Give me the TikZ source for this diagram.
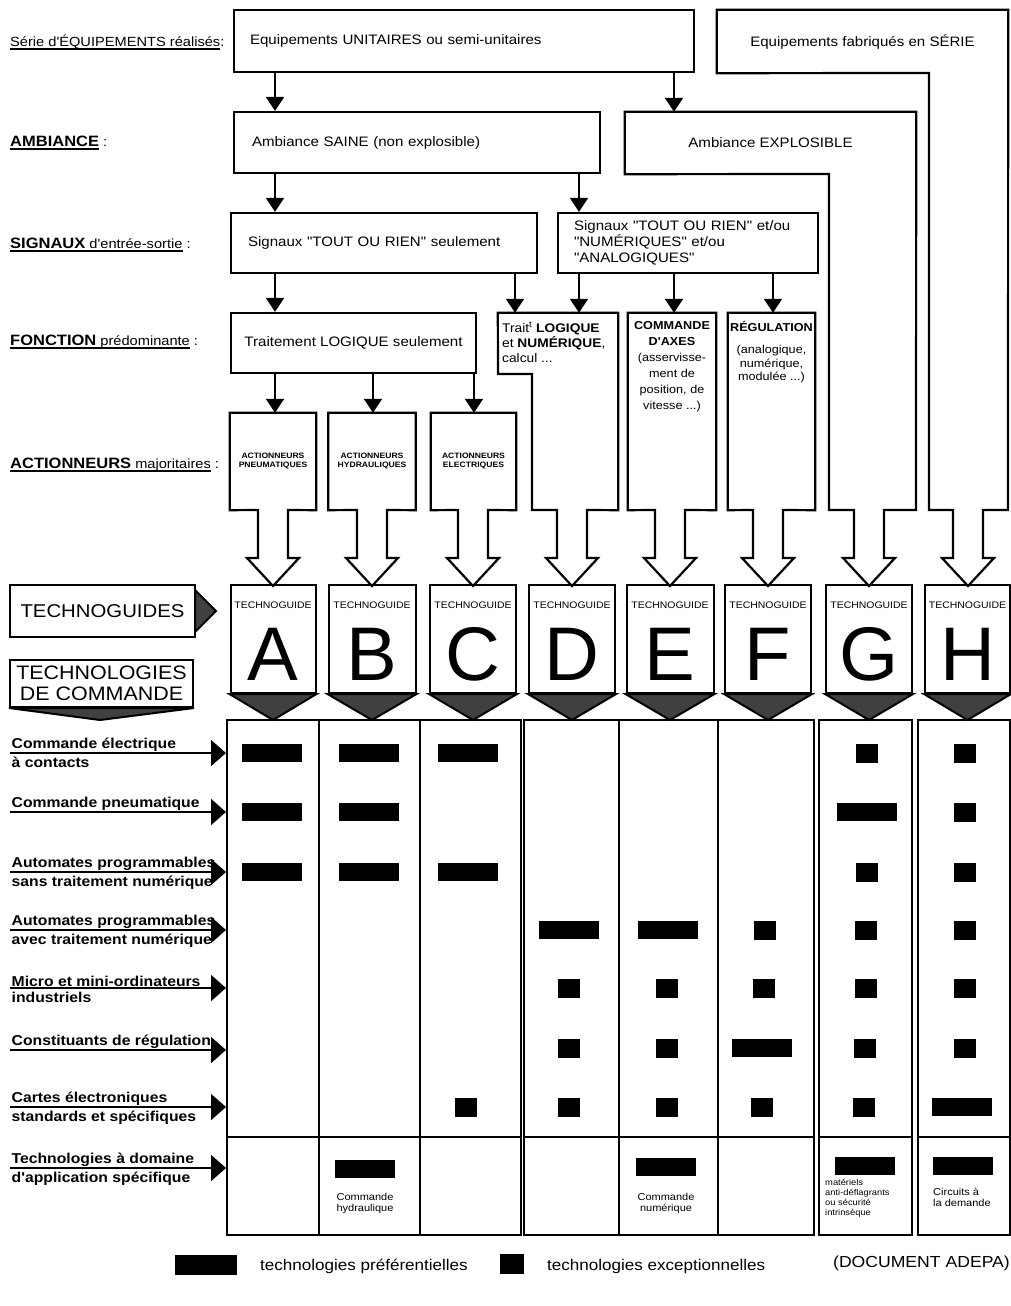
\documentclass[tikz,border=0pt]{standalone}
\usepackage{fontspec}
\setmainfont{Liberation Sans}[FakeStretch=1.1, Ligatures=TeXOff]
\newfontfamily\letterfont{Liberation Sans}
\usetikzlibrary{arrows.meta}
\newsavebox{\ulbox}
\newcommand{\undl}[1]{\sbox\ulbox{#1}\rlap{\raisebox{-3.5pt}{\rule{\wd\ulbox}{1.5pt}}}\usebox\ulbox}
\newcommand{\kw}[1]{{\fontsize{15}{17}\selectfont\bfseries #1}}

\tikzset{
  box/.style={draw, line width=2.2pt, inner ysep=0pt},
  boxtext/.style={font=\fontsize{13.7}{16}\selectfont},
  lab/.style={anchor=west, inner sep=0pt, font=\fontsize{13.3}{15}\selectfont},
  rowlab/.style={inner sep=1.5pt, font=\bfseries\fontsize{14.3}{16}\selectfont},
  colbox/.style={inner sep=0pt},
  outline/.style={line width=2.2pt, line join=miter},
  flow/.style={-{Triangle[width=18pt,length=14pt]}, line width=1.8pt},
  rowarrow/.style={-{Triangle[width=26pt,length=15pt]}, line width=1.8pt},
  tiparrow/.style={insert path={-- ([xshift=#1]15,510) -- ([xshift=#1]15,558) -- ([xshift=#1]26,558) -- ([xshift=#1]0,586) -- ([xshift=#1]-26,558) -- ([xshift=#1]-15,558) -- ([xshift=#1]-15,510)}},
  guide/.style={draw, line width=2pt, inner sep=0pt, minimum height=108pt},
  gtitle/.style={inner sep=0pt, font=\fontsize{9.5}{10}\selectfont},
  gletter/.style={anchor=base, inner sep=0pt, font=\letterfont\fontsize{76}{80}\selectfont},
  darkfill/.style={fill=black!75, draw=black, line width=2pt},
  matframe/.style={draw, line width=2pt, inner sep=0pt, minimum height=515pt},
  pref/.style={fill=black, minimum width=60pt, minimum height=18pt, inner sep=0pt},
  excep/.style={fill=black, minimum width=22pt, minimum height=19pt, inner sep=0pt},
  note/.style={inner sep=0pt, align=center, font=\fontsize{10}{11}\selectfont},
}

\begin{document}
\begin{tikzpicture}[x=1pt, y=-1pt]
\useasboundingbox (0,0) rectangle (1011,1306);

\coordinate (kA) at (275,0);
\coordinate (kB) at (373,0);
\coordinate (kC) at (474,0);
\coordinate (kD1) at (515,0);
\coordinate (kD2) at (579,0);
\coordinate (kE) at (674,0);
\coordinate (kF) at (773,0);

\node[lab] (lserie) at (10,42) {\undl{Série d'ÉQUIPEMENTS réalisés}:};
\node[lab] (lamb) at (10,143) {\undl{\kw{AMBIANCE}} :};
\node[lab] (lsig) at (10,245) {\undl{\kw{SIGNAUX} d'entrée-sortie} :};
\node[lab] (lfon) at (10,342) {\undl{\kw{FONCTION} prédominante} :};
\node[lab] (lact) at (10,465) {\undl{\kw{ACTIONNEURS} majoritaires} :};

\node[box, boxtext, minimum width=460pt, minimum height=62pt, text width=428pt, inner xsep=16pt, align=left] (unit) at (464,41) {Equipements UNITAIRES ou semi-unitaires};
\node[colbox, boxtext, minimum width=291pt, minimum height=63pt] (serie) at (862.5,41.5) {Equipements fabriqués en SÉRIE};
\draw[outline] (serie.north west) -- (serie.north east) -- (1008,510) [tiparrow=968] -- (929,510) -- (929,73) -- (serie.south west) -- cycle;

\node[box, boxtext, minimum width=366pt, minimum height=61pt, text width=330pt, inner xsep=18pt, align=left] (saine) at (417,142.5) {Ambiance SAINE (non explosible)};
\node[colbox, boxtext, minimum width=291pt, minimum height=62pt] (explo) at (770.5,143) {Ambiance EXPLOSIBLE};
\draw[outline] (explo.north west) -- (explo.north east) -- (916,510) [tiparrow=869] -- (829,510) -- (829,174) -- (explo.south west) -- cycle;

\node[box, boxtext, minimum width=306pt, minimum height=60pt, text width=272pt, inner xsep=17pt, align=left] (tor) at (384,243) {Signaux "TOUT OU RIEN" seulement};
\node[box, boxtext, minimum width=260pt, minimum height=60pt, text width=228pt, inner xsep=16pt, align=left] (num) at (688,243) {Signaux "TOUT OU RIEN" et/ou\\"NUMÉRIQUES" et/ou\\"ANALOGIQUES"};
\node[box, boxtext, minimum width=245pt, minimum height=60pt] (logique) at (353.5,343) {Traitement LOGIQUE seulement};

\node[colbox, minimum width=120pt, minimum height=197pt] (funD) at (558,411.5) {};
\draw[outline] (funD.north west) -- (funD.north east) -- (funD.south east) [tiparrow=572] -- (532,510) -- (532,374) -- (498,374) -- cycle;
\node[anchor=north west, inner sep=0pt, align=left, font=\fontsize{12.5}{15}\selectfont] (tD) at (502,322) {Trait\textsuperscript{t} \textbf{LOGIQUE}\\et \textbf{NUMÉRIQUE},\\calcul ...};

\node[colbox, minimum width=88pt, minimum height=197pt] (funE) at (672,411.5) {};
\draw[outline] (funE.north west) -- (funE.north east) -- (funE.south east) [tiparrow=670] -- (funE.south west) -- cycle;
\node[anchor=north, inner sep=0pt, align=center, font=\fontsize{11.5}{16}\selectfont] (tE) at (672,321) {\textbf{COMMANDE}\\\textbf{D'AXES}\\(asservisse-\\ment de\\position, de\\vitesse ...)};

\node[colbox, minimum width=87pt, minimum height=197pt] (funF) at (771.5,411.5) {};
\draw[outline] (funF.north west) -- (funF.north east) -- (funF.south east) [tiparrow=768] -- (funF.south west) -- cycle;
\node[anchor=north, inner sep=0pt, align=center, font=\fontsize{11.5}{13.5}\selectfont] (tF) at (771.5,321) {\textbf{RÉGULATION}\\[9pt](analogique,\\numérique,\\modulée ...)};

\node[colbox, minimum width=86pt, minimum height=97pt, align=center, font=\bfseries\fontsize{7.8}{9}\selectfont] (actA) at (273,461.5) {ACTIONNEURS\\PNEUMATIQUES};
\draw[outline] (actA.north west) -- (actA.north east) -- (actA.south east) [tiparrow=273] -- (actA.south west) -- cycle;
\node[colbox, minimum width=87pt, minimum height=97pt, align=center, font=\bfseries\fontsize{7.8}{9}\selectfont] (actB) at (372,461.5) {ACTIONNEURS\\HYDRAULIQUES};
\draw[outline] (actB.north west) -- (actB.north east) -- (actB.south east) [tiparrow=372] -- (actB.south west) -- cycle;
\node[colbox, minimum width=85pt, minimum height=97pt, align=center, font=\bfseries\fontsize{7.8}{9}\selectfont] (actC) at (473.5,461.5) {ACTIONNEURS\\ELECTRIQUES};
\draw[outline] (actC.north west) -- (actC.north east) -- (actC.south east) [tiparrow=473] -- (actC.south west) -- cycle;

\path[flow] (unit.south -| kA) edge (saine.north -| kA);
\path[flow] (unit.south -| kE) edge (explo.north -| kE);
\path[flow] (saine.south -| kA) edge (tor.north -| kA);
\path[flow] (saine.south -| kD2) edge (num.north -| kD2);
\path[flow] (tor.south -| kA) edge (logique.north -| kA);
\path[flow] (tor.south -| kD1) edge (funD.north -| kD1);
\path[flow] (num.south -| kD2) edge (funD.north -| kD2);
\path[flow] (num.south -| kE) edge (funE.north -| kE);
\path[flow] (num.south -| kF) edge (funF.north -| kF);
\path[flow] (logique.south -| kA) edge (actA.north -| kA);
\path[flow] (logique.south -| kB) edge (actB.north -| kB);
\path[flow] (logique.south -| kC) edge (actC.north -| kC);

\node[draw, line width=2pt, minimum width=185pt, minimum height=52pt, inner sep=0pt, font=\fontsize{18.5}{20}\selectfont] (tguides) at (102.5,611) {TECHNOGUIDES};
\filldraw[darkfill] (195,590) -- (216,611) -- (195,632) -- cycle;
\node[draw, line width=2pt, minimum width=183pt, minimum height=47pt, inner sep=0pt, align=center, font=\fontsize{19.5}{21}\selectfont] (tcmd) at (101.5,683.5) {TECHNOLOGIES\\DE COMMANDE};
\filldraw[darkfill] (tcmd.south west) -- (100,720) -- (tcmd.south east) -- cycle;

\node[guide, minimum width=85pt] (gA) at (273,639) {};
\filldraw[darkfill] (gA.south west) -- (gA.south east) -- (273,720) -- cycle;
\node[gtitle] (tgA) at (273,605) {TECHNOGUIDE};
\node[gletter] (glA) at (273,680) {A};
\node[guide, minimum width=87pt] (gB) at (372,639) {};
\filldraw[darkfill] (gB.south west) -- (gB.south east) -- (372,720) -- cycle;
\node[gtitle] (tgB) at (372,605) {TECHNOGUIDE};
\node[gletter] (glB) at (372,680) {B};
\node[guide, minimum width=86pt] (gC) at (473,639) {};
\filldraw[darkfill] (gC.south west) -- (gC.south east) -- (473,720) -- cycle;
\node[gtitle] (tgC) at (473,605) {TECHNOGUIDE};
\node[gletter] (glC) at (473,680) {C};
\node[guide, minimum width=86pt] (gD) at (572,639) {};
\filldraw[darkfill] (gD.south west) -- (gD.south east) -- (572,720) -- cycle;
\node[gtitle] (tgD) at (572,605) {TECHNOGUIDE};
\node[gletter] (glD) at (572,680) {D};
\node[guide, minimum width=87pt] (gE) at (670,639) {};
\filldraw[darkfill] (gE.south west) -- (gE.south east) -- (670,720) -- cycle;
\node[gtitle] (tgE) at (670,605) {TECHNOGUIDE};
\node[gletter] (glE) at (670,680) {E};
\node[guide, minimum width=86pt] (gF) at (768,639) {};
\filldraw[darkfill] (gF.south west) -- (gF.south east) -- (768,720) -- cycle;
\node[gtitle] (tgF) at (768,605) {TECHNOGUIDE};
\node[gletter] (glF) at (768,680) {F};
\node[guide, minimum width=86pt] (gG) at (869,639) {};
\filldraw[darkfill] (gG.south west) -- (gG.south east) -- (869,720) -- cycle;
\node[gtitle] (tgG) at (869,605) {TECHNOGUIDE};
\node[gletter] (glG) at (869,680) {G};
\node[guide, minimum width=85pt] (gH) at (967.5,639) {};
\filldraw[darkfill] (gH.south west) -- (gH.south east) -- (967.5,720) -- cycle;
\node[gtitle] (tgH) at (967.5,605) {TECHNOGUIDE};
\node[gletter] (glH) at (967.5,680) {H};

\node[matframe, minimum width=294pt] (fABC) at (374,977.5) {};
\node[matframe, minimum width=290pt] (fDEF) at (669,977.5) {};
\node[matframe, minimum width=93pt] (fG) at (865.5,977.5) {};
\node[matframe, minimum width=92pt] (fH) at (964,977.5) {};
\draw[line width=2pt] (319,720) -- (319,1235);
\draw[line width=2pt] (420,720) -- (420,1235);
\draw[line width=2pt] (619,720) -- (619,1235);
\draw[line width=2pt] (718,720) -- (718,1235);
\draw[line width=2pt] (227,1137) -- (521,1137);
\draw[line width=2pt] (524,1137) -- (814,1137);
\draw[line width=2pt] (819,1137) -- (912,1137);
\draw[line width=2pt] (918,1137) -- (1010,1137);

\node[rowlab, anchor=south west] (r1a) at (10,753) {Commande électrique};
\node[rowlab, anchor=north west] (r1b) at (10,755) {à contacts};
\node[rowlab, anchor=south west] (r2a) at (10,812) {Commande pneumatique};
\node[rowlab, anchor=south west] (r3a) at (10,872) {Automates programmables};
\node[rowlab, anchor=north west] (r3b) at (10,874) {sans traitement numérique};
\node[rowlab, anchor=south west] (r4a) at (10,930) {Automates programmables};
\node[rowlab, anchor=north west] (r4b) at (10,932) {avec traitement numérique};
\node[rowlab, anchor=south west] (r5a) at (10,988) {Micro et mini-ordinateurs};
\node[rowlab, anchor=north west] (r5b) at (10,990) {industriels};
\node[rowlab, anchor=south west] (r6a) at (10,1050) {Constituants de régulation};
\node[rowlab, anchor=south west] (r7a) at (10,1107) {Cartes électroniques};
\node[rowlab, anchor=north west] (r7b) at (10,1109) {standards et spécifiques};
\node[rowlab, anchor=south west] (r8a) at (10,1168) {Technologies à domaine};
\node[rowlab, anchor=north west] (r8b) at (10,1170) {d'application spécifique};
\path[rowarrow] (r1a.south west) edge (fABC.west |- r1a.south west);
\path[rowarrow] (r2a.south west) edge (fABC.west |- r2a.south west);
\path[rowarrow] (r3a.south west) edge (fABC.west |- r3a.south west);
\path[rowarrow] (r4a.south west) edge (fABC.west |- r4a.south west);
\path[rowarrow] (r5a.south west) edge (fABC.west |- r5a.south west);
\path[rowarrow] (r6a.south west) edge (fABC.west |- r6a.south west);
\path[rowarrow] (r7a.south west) edge (fABC.west |- r7a.south west);
\path[rowarrow] (r8a.south west) edge (fABC.west |- r8a.south west);

\node[pref] (mA1) at (272,753) {};
\node[pref] (mA2) at (272,812) {};
\node[pref] (mA3) at (272,872) {};
\node[pref] (mB1) at (369,753) {};
\node[pref] (mB2) at (369,812) {};
\node[pref] (mB3) at (369,872) {};
\node[pref] (mB8) at (365,1169) {};
\node[pref] (mC1) at (468,753) {};
\node[pref] (mC3) at (468,872) {};
\node[excep] (mC7) at (466,1107) {};
\node[pref] (mD4) at (569,930) {};
\node[excep] (mD5) at (569,988) {};
\node[excep] (mD6) at (569,1048) {};
\node[excep] (mD7) at (569,1107) {};
\node[pref] (mE4) at (668,930) {};
\node[excep] (mE5) at (667,988) {};
\node[excep] (mE6) at (667,1048) {};
\node[excep] (mE7) at (667,1107) {};
\node[pref] (mE8) at (666,1167) {};
\node[excep] (mF4) at (765,930) {};
\node[excep] (mF5) at (764,988) {};
\node[pref] (mF6) at (762,1048) {};
\node[excep] (mF7) at (762,1107) {};
\node[excep] (mG1) at (867,753) {};
\node[pref] (mG2) at (867,812) {};
\node[excep] (mG3) at (867,872) {};
\node[excep] (mG4) at (866,930) {};
\node[excep] (mG5) at (866,988) {};
\node[excep] (mG6) at (865,1048) {};
\node[excep] (mG7) at (864,1107) {};
\node[pref] (mG8) at (864.5,1166) {};
\node[excep] (mH1) at (965,753) {};
\node[excep] (mH2) at (965,812) {};
\node[excep] (mH3) at (965,872) {};
\node[excep] (mH4) at (965,930) {};
\node[excep] (mH5) at (965,988) {};
\node[excep] (mH6) at (965,1048) {};
\node[pref] (mH7) at (962,1107) {};
\node[pref] (mH8) at (962.5,1166) {};

\node[note] (nB) at (365,1203) {Commande\\hydraulique};
\node[note] (nE) at (666,1203) {Commande\\numérique};
\node[note, anchor=north west, align=left, font=\fontsize{8.5}{10}\selectfont] (nG) at (825,1179) {matériels\\anti-déflagrants\\ou sécurité\\intrinsèque};
\node[note, anchor=north west, align=left] (nH) at (933,1188) {Circuits à\\la demande};

\node[fill=black, minimum width=62pt, minimum height=20pt, inner sep=0pt] (legP) at (206,1265) {};
\node[anchor=west, inner sep=0pt, font=\fontsize{15.5}{17}\selectfont] (legPt) at (260,1266) {technologies préférentielles};
\node[fill=black, minimum width=24pt, minimum height=20pt, inner sep=0pt] (legE) at (512,1264) {};
\node[anchor=west, inner sep=0pt, font=\fontsize{15.5}{17}\selectfont] (legEt) at (547,1266) {technologies exceptionnelles};
\node[anchor=east, inner sep=0pt, font=\fontsize{16}{18}\selectfont] (doc) at (1010,1263) {(DOCUMENT ADEPA)};
\end{tikzpicture}
\end{document}
